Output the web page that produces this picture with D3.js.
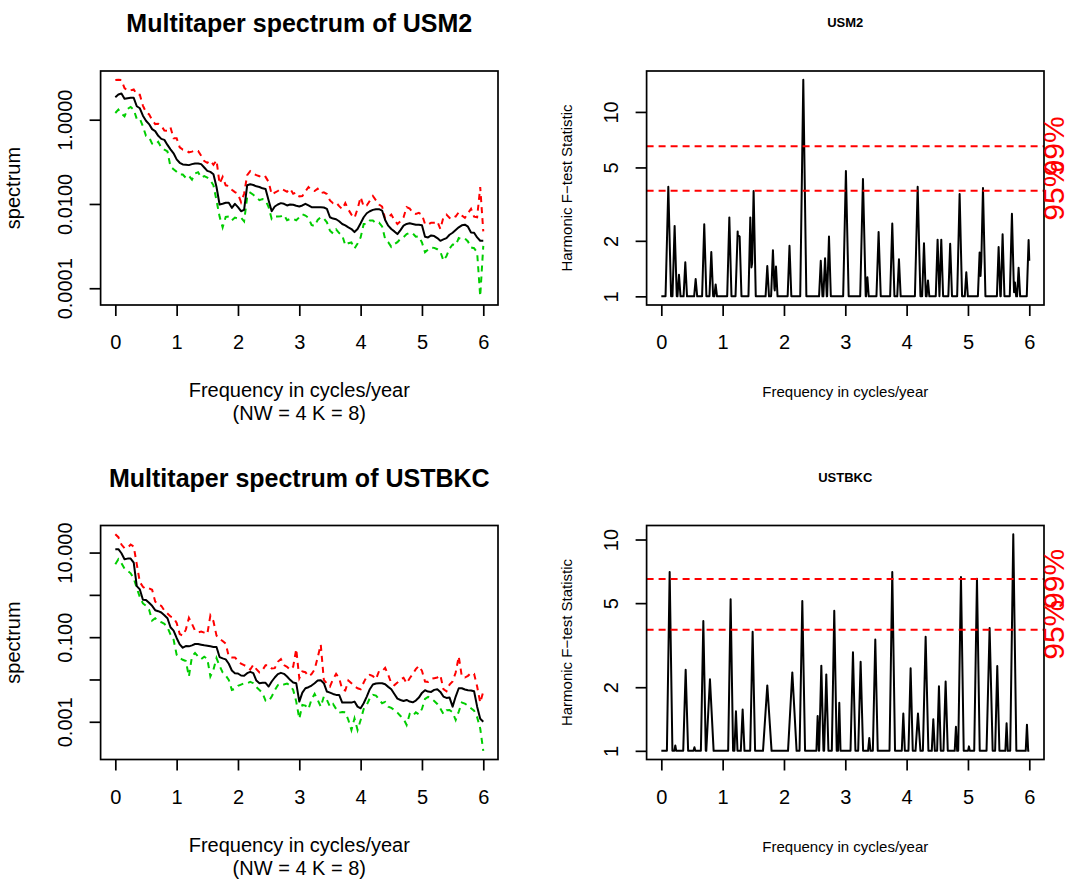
<!DOCTYPE html>
<html><head><meta charset="utf-8">
<script src="https://cdn.jsdelivr.net/npm/d3@7"></script>
<style>
body{margin:0;background:#fff}
svg{display:block}
text{font-family:"Liberation Sans",Arial,Helvetica,sans-serif;fill:#000}
</style>
</head><body>
<svg id="chart" width="1070" height="886"></svg>
<script>
// ---------------- DATA ----------------
// frequency grid (cycles/year) sampled every FREQ_STEP from 0 to 6
const FREQ_STEP = 0.05;
const freqTicks = [0, 1, 2, 3, 4, 5, 6];

// USM2 multitaper spectrum, upper and lower CI (log10 of spectrum)
const usm2SpecLog10 = [
  0.535,0.599,0.62,0.495,0.511,0.519,0.519,0.319,0.271,0.096,
  -0.024,-0.104,-0.224,-0.271,-0.383,-0.455,-0.479,-0.599,-0.703,-0.798,
  -0.942,-1.022,-1.062,-1.07,-1.078,-1.054,-1.038,-1.038,-1.054,-1.134,
  -1.214,-1.238,-1.293,-1.597,-2.012,-1.996,-1.972,-1.972,-2.092,-1.996,
  -2.076,-2.172,-2.14,-1.557,-1.533,-1.549,-1.581,-1.597,-1.629,-1.645,
  -1.916,-2.172,-2.06,-2.012,-1.98,-1.996,-2.036,-2.012,-2.02,-2.044,
  -2.06,-2.036,-1.996,-2.036,-2.076,-2.076,-2.076,-2.076,-2.084,-2.116,
  -2.315,-2.347,-2.363,-2.411,-2.475,-2.507,-2.555,-2.595,-2.667,-2.595,
  -2.459,-2.315,-2.22,-2.172,-2.14,-2.124,-2.124,-2.156,-2.379,-2.515,
  -2.595,-2.651,-2.715,-2.619,-2.515,-2.475,-2.459,-2.475,-2.491,-2.491,
  -2.507,-2.778,-2.794,-2.747,-2.762,-2.81,-2.874,-2.842,-2.81,-2.731,
  -2.683,-2.619,-2.555,-2.507,-2.491,-2.539,-2.675,-2.683,-2.794,-2.874,
  -2.874
];
const usm2UpperLog10 = [
  0.942,0.950,0.942,0.750,0.687,0.695,0.719,0.599,0.591,0.335,
  0.176,0.128,-0.008,-0.104,-0.096,-0.144,-0.255,-0.263,-0.184,-0.439,
  -0.439,-0.655,-0.711,-0.719,-0.774,-0.758,-0.727,-0.743,-0.854,-0.982,
  -1.022,-0.974,-1.070,-0.966,-1.517,-1.357,-1.557,-1.573,-1.661,-1.717,
  -1.757,-1.956,-1.757,-1.317,-1.222,-1.277,-1.317,-1.341,-1.389,-1.357,
  -1.477,-1.773,-1.733,-1.693,-1.637,-1.669,-1.709,-1.637,-1.757,-1.725,
  -1.820,-1.812,-1.701,-1.597,-1.677,-1.693,-1.637,-1.741,-1.725,-1.765,
  -1.916,-1.980,-1.964,-2.052,-2.124,-1.980,-2.132,-2.252,-2.331,-2.116,
  -1.836,-2.060,-2.036,-1.924,-1.812,-1.916,-2.012,-2.060,-2.355,-2.315,
  -2.252,-2.379,-2.475,-2.411,-2.315,-2.076,-2.108,-2.212,-2.236,-2.212,
  -2.252,-2.475,-2.491,-2.443,-2.443,-2.411,-2.595,-2.315,-2.252,-2.331,
  -2.268,-2.300,-2.196,-2.276,-2.331,-2.220,-2.116,-2.300,-2.315,-1.597,
  -2.651
];
const usm2LowerLog10 = [
  0.160,0.240,0.144,0.080,0.255,0.303,0.240,0.016,0.024,-0.160,
  -0.383,-0.415,-0.567,-0.591,-0.527,-0.663,-0.711,-0.751,-1.118,-1.174,
  -1.238,-1.301,-1.301,-1.381,-1.333,-1.421,-1.277,-1.246,-1.373,-1.341,
  -1.373,-1.437,-1.557,-1.916,-2.299,-2.555,-2.307,-2.299,-2.387,-2.323,
  -2.347,-2.323,-2.411,-1.836,-1.733,-1.780,-1.852,-1.908,-1.884,-1.916,
  -2.076,-2.355,-2.299,-2.299,-2.291,-2.259,-2.387,-2.355,-2.355,-2.387,
  -2.315,-2.244,-2.275,-2.331,-2.499,-2.523,-2.379,-2.315,-2.347,-2.435,
  -2.635,-2.699,-2.603,-2.691,-2.747,-2.978,-2.930,-2.914,-3.058,-2.938,
  -2.795,-2.475,-2.475,-2.395,-2.395,-2.459,-2.443,-2.531,-2.834,-2.906,
  -3.018,-2.954,-2.906,-2.826,-2.786,-2.715,-2.683,-2.699,-2.778,-2.770,
  -2.914,-3.146,-3.082,-3.034,-3.042,-3.074,-3.130,-3.345,-3.234,-3.058,
  -2.962,-2.978,-2.810,-2.834,-2.818,-2.890,-3.034,-3.050,-3.154,-4.192,
  -2.994
];

// USTBKC multitaper spectrum, upper and lower CI (log10)
const ustbkcSpecLog10 = [
  1.079,1.079,0.984,0.842,0.857,0.857,0.763,0.208,0.129,-0.116,
  -0.124,-0.188,-0.259,-0.362,-0.386,-0.417,-0.480,-0.552,-0.766,-0.845,
  -1.019,-1.170,-1.249,-1.209,-1.217,-1.193,-1.162,-1.162,-1.177,-1.193,
  -1.201,-1.217,-1.233,-1.233,-1.470,-1.502,-1.526,-1.629,-1.788,-1.851,
  -1.859,-1.906,-1.914,-1.851,-1.819,-1.851,-2.025,-2.088,-2.080,-2.080,
  -2.167,-2.048,-1.953,-1.874,-1.843,-1.867,-1.930,-2.009,-2.072,-2.088,
  -2.523,-2.310,-2.207,-2.183,-2.143,-2.088,-2.025,-2.017,-2.088,-2.286,
  -2.310,-2.342,-2.365,-2.365,-2.547,-2.547,-2.547,-2.547,-2.523,-2.642,
  -2.682,-2.563,-2.404,-2.230,-2.120,-2.096,-2.088,-2.088,-2.112,-2.175,
  -2.230,-2.342,-2.453,-2.485,-2.509,-2.485,-2.523,-2.539,-2.499,-2.428,
  -2.318,-2.254,-2.286,-2.294,-2.246,-2.230,-2.294,-2.404,-2.436,-2.428,
  -2.642,-2.404,-2.207,-2.207,-2.238,-2.254,-2.262,-2.278,-2.642,-2.927,
  -2.998
];
const ustbkcUpperLog10 = [
  1.435,1.364,1.190,1.103,1.111,1.190,1.143,0.723,0.303,0.192,
  0.137,0.153,0.121,-0.156,-0.243,-0.259,-0.370,-0.441,-0.512,-0.544,
  -0.663,-0.924,-0.964,-0.821,-0.544,-0.687,-0.845,-0.885,-0.869,-0.893,
  -0.924,-0.489,-0.623,-0.964,-1.043,-1.090,-1.154,-1.454,-1.478,-1.478,
  -1.558,-1.629,-1.661,-1.700,-1.763,-1.653,-1.756,-1.835,-1.779,-1.661,
  -1.661,-1.740,-1.732,-1.581,-1.518,-1.661,-1.700,-1.771,-1.700,-1.281,
  -1.970,-1.811,-1.827,-1.922,-1.874,-1.763,-1.478,-1.178,-2.009,-2.096,
  -2.167,-1.993,-1.867,-1.970,-2.238,-2.262,-2.025,-2.088,-2.159,-2.207,
  -2.230,-2.072,-1.930,-1.890,-1.922,-1.993,-1.803,-1.803,-1.724,-1.890,
  -2.088,-2.135,-2.072,-2.001,-1.961,-2.088,-1.970,-1.874,-1.756,-1.677,
  -1.795,-2.048,-2.056,-1.985,-1.970,-1.954,-1.898,-2.230,-2.278,-2.120,
  -2.048,-1.835,-1.454,-1.930,-1.954,-1.914,-1.843,-1.867,-2.167,-2.547,
  -2.286
];
const ustbkcLowerLog10 = [
  0.723,0.842,0.747,0.620,0.572,0.509,0.390,0.161,-0.053,-0.203,
  -0.259,-0.346,-0.607,-0.552,-0.615,-0.647,-0.686,-0.766,-0.940,-1.059,
  -1.415,-1.494,-1.534,-1.565,-1.930,-1.454,-1.375,-1.454,-1.518,-1.462,
  -1.510,-1.930,-1.772,-1.494,-1.676,-1.835,-1.906,-2.009,-2.246,-2.223,
  -2.151,-2.120,-2.088,-2.088,-2.056,-2.088,-2.183,-2.246,-2.325,-2.500,
  -2.515,-2.404,-2.254,-2.135,-2.096,-2.120,-2.096,-2.143,-2.246,-2.523,
  -2.927,-2.603,-2.618,-2.697,-2.468,-2.341,-2.483,-2.642,-2.404,-2.483,
  -2.642,-2.578,-2.697,-2.784,-2.768,-2.776,-2.958,-3.196,-2.919,-3.196,
  -2.958,-2.697,-2.603,-2.443,-2.364,-2.381,-2.468,-2.563,-2.531,-2.642,
  -2.673,-2.721,-2.784,-2.864,-2.927,-3.077,-2.816,-2.864,-2.776,-2.824,
  -2.697,-2.460,-2.412,-2.452,-2.507,-2.578,-2.689,-2.816,-2.729,-2.721,
  -2.776,-2.958,-2.760,-2.546,-2.570,-2.618,-2.681,-2.737,-2.895,-3.157,
  -3.687
];

const usm2YTicks = [1, 0.01, 0.0001];
const usm2YLabels = ["1.0000", "0.0100", "0.0001"];
const ustbkcYTicks = [10, 1, 0.1, 0.01, 0.001];
const ustbkcYLabels = ["10.000", "", "0.100", "", "0.001"];

// Harmonic F-test: peaks above the baseline of 1 (frequency, F value, half width of spike)
const usm2PeakFreq = [0.114,0.217,0.288,0.391,0.56,0.70,0.815,0.886,1.109,1.245,1.277,1.451,1.505,1.728,1.82,1.87,2.09,2.315,2.60,2.67,2.734,3.01,3.288,3.36,3.543,3.766,3.875,4.18,4.283,4.348,4.505,4.565,4.71,4.864,4.973,5.19,5.245,5.50,5.565,5.717,5.766,5.826,5.989];
const usm2PeakF    = [3.93,2.41,1.31,1.53,1.24,2.46,1.74,1.16,2.68,2.25,2.11,2.68,3.73,1.46,1.78,1.45,1.88,14.96,1.56,1.61,2.11,4.78,4.33,1.27,2.23,2.48,1.59,3.93,1.94,1.22,2.03,2.03,1.93,3.59,1.35,1.73,3.87,1.85,2.17,2.80,1.19,1.43,2.02];
const usm2PeakHW   = [0.045,0.035,0.025,0.028,0.025,0.035,0.03,0.022,0.035,0.035,0.03,0.03,0.035,0.028,0.03,0.025,0.03,0.05,0.028,0.028,0.03,0.045,0.045,0.022,0.035,0.035,0.028,0.045,0.03,0.022,0.03,0.03,0.03,0.04,0.025,0.028,0.04,0.028,0.03,0.035,0.02,0.025,0.03];

const ustbkcPeakFreq = [0.136,0.228,0.397,0.54,0.685,0.793,1.13,1.217,1.326,1.489,1.728,2.136,2.299,2.549,2.609,2.69,2.82,2.902,3.125,3.25,3.391,3.489,3.766,3.946,4.065,4.185,4.31,4.435,4.527,4.636,4.804,4.886,5.016,5.147,5.353,5.478,5.63,5.739,5.962];
const ustbkcPeakF    = [7.02,1.06,2.42,1.04,4.12,2.18,5.22,1.54,1.57,3.66,2.04,2.35,5.12,1.46,2.53,2.30,4.6,1.69,2.93,2.64,1.15,3.36,7.02,1.50,2.46,1.50,3.47,1.41,2.02,2.13,1.30,6.65,1.05,6.53,3.81,2.52,1.35,10.6,1.33];
const ustbkcPeakHW   = [0.045,0.015,0.04,0.015,0.04,0.06,0.04,0.025,0.03,0.04,0.07,0.07,0.045,0.02,0.035,0.035,0.04,0.02,0.04,0.04,0.02,0.04,0.045,0.025,0.035,0.04,0.045,0.025,0.03,0.035,0.02,0.045,0.015,0.045,0.05,0.035,0.02,0.05,0.02];

const fTicks = [1, 2, 5, 10];
const fTickLabels = ["1", "2", "5", "10"];
const fThresholds = [3.74, 6.51];
const fThresholdLabels = ["95%", "99%"];

// ---------------- DRAWING ----------------
const svg = d3.select("#chart");
svg.append("rect").attr("width", 1070).attr("height", 886).attr("fill", "#fff");

const FONT = 20;
const TICK = 11;
const xDomain = [-0.24, 6.24];

function frame(g, box) {
  g.append("rect").attr("x", box.x0).attr("y", box.y0)
    .attr("width", box.x1 - box.x0).attr("height", box.y1 - box.y0)
    .attr("fill", "none").attr("stroke", "#000").attr("stroke-width", 1.7);
}

function xAxis(g, box, x) {
  const ax = g.append("g").attr("transform", `translate(0,${box.y1})`)
    .call(d3.axisBottom(x).tickValues(freqTicks).tickFormat(d3.format("d")).tickSize(TICK));
  ax.select(".domain").remove();
  ax.selectAll("line").attr("stroke", "#000").attr("stroke-width", 1.7);
  ax.selectAll("text").attr("y", 44).attr("dy", null)
    .style("font-size", FONT + "px").attr("fill", "#000");
}

function yAxis(g, box, y, ticks, labels) {
  const ax = g.append("g").attr("transform", `translate(${box.x0},0)`)
    .call(d3.axisLeft(y).tickValues(ticks).tickFormat((d, i) => labels[i]).tickSize(TICK));
  ax.select(".domain").remove();
  ax.selectAll("line").attr("stroke", "#000").attr("stroke-width", 1.7);
  ax.selectAll("text").attr("x", null).attr("dy", null)
    .attr("transform", "translate(-29,0) rotate(-90)")
    .attr("text-anchor", "middle")
    .style("font-size", FONT + "px").attr("fill", "#000");
}

function specPanel(box, title, specL, upL, loL, yTicks, yLabels) {
  const g = svg.append("g");
  const spec = specL.map(v => Math.pow(10, v));
  const up = upL.map(v => Math.pow(10, v));
  const lo = loL.map(v => Math.pow(10, v));
  const all = spec.concat(up, lo);
  const lmin = Math.log10(d3.min(all)), lmax = Math.log10(d3.max(all));
  const pad = (lmax - lmin) * 0.04;
  const x = d3.scaleLinear().domain(xDomain).range([box.x0, box.x1]);
  const y = d3.scaleLog().domain([Math.pow(10, lmin - pad), Math.pow(10, lmax + pad)]).range([box.y1, box.y0]);
  const line = d3.line().x((d, i) => x(i * FREQ_STEP)).y(d => y(d));

  g.append("path").datum(up).attr("d", line).attr("fill", "none")
    .attr("stroke", "#FF0000").attr("stroke-width", 2).attr("stroke-dasharray", "6,5");
  g.append("path").datum(lo).attr("d", line).attr("fill", "none")
    .attr("stroke", "#00CD00").attr("stroke-width", 2).attr("stroke-dasharray", "6,5");
  g.append("path").datum(spec).attr("d", line).attr("fill", "none")
    .attr("stroke", "#000").attr("stroke-width", 2).attr("stroke-linejoin", "round");

  frame(g, box);
  xAxis(g, box, x);
  yAxis(g, box, y, yTicks, yLabels);

  const cx = (box.x0 + box.x1) / 2, cy = (box.y0 + box.y1) / 2;
  g.append("text").attr("x", cx).attr("y", box.y0 - 39).attr("text-anchor", "middle")
    .style("font-size", "25px").style("font-weight", "bold").text(title);
  g.append("text").attr("x", cx).attr("y", box.y1 + 92).attr("text-anchor", "middle")
    .style("font-size", FONT + "px").text("Frequency in cycles/year");
  g.append("text").attr("x", cx).attr("y", box.y1 + 115).attr("text-anchor", "middle")
    .style("font-size", FONT + "px").text("(NW = 4 K = 8)");
  g.append("text").attr("transform", `translate(${box.x0 - 81},${cy}) rotate(-90)`)
    .attr("text-anchor", "middle").style("font-size", FONT + "px").text("spectrum");
}

function fPanel(box, title, pf, pv, phw) {
  const g = svg.append("g");
  const x = d3.scaleLinear().domain(xDomain).range([box.x0, box.x1]);
  const lmax = Math.log10(d3.max(pv)), lmin = 0;
  const pad = (lmax - lmin) * 0.04;
  const y = d3.scaleLog().domain([Math.pow(10, lmin - pad), Math.pow(10, lmax + pad)]).range([box.y1, box.y0]);

  // breakpoints of the spike line, evaluated from the peak list
  let xs = [0, 6];
  pf.forEach((f, i) => xs.push(f - phw[i], f, f + phw[i]));
  xs = Array.from(new Set(xs.filter(v => v >= 0 && v <= 6).map(v => +v.toFixed(4)))).sort((a, b) => a - b);
  const fAt = t => {
    let m = 0;
    pf.forEach((f, i) => {
      const d = Math.abs(t - f);
      if (d < phw[i]) m = Math.max(m, Math.log10(pv[i]) * (1 - d / phw[i]));
    });
    return Math.pow(10, m);
  };
  const pts = xs.map(t => [t, fAt(t)]);

  g.append("path").datum(pts)
    .attr("d", d3.line().x(d => x(d[0])).y(d => y(d[1])))
    .attr("fill", "none").attr("stroke", "#000").attr("stroke-width", 2).attr("stroke-linejoin", "round");

  fThresholds.forEach((t, i) => {
    g.append("line").attr("x1", box.x0).attr("x2", box.x1).attr("y1", y(t)).attr("y2", y(t))
      .attr("stroke", "#FF0000").attr("stroke-width", 2).attr("stroke-dasharray", "7,5");
  });

  frame(g, box);
  xAxis(g, box, x);
  yAxis(g, box, y, fTicks, fTickLabels);

  fThresholds.forEach((t, i) => {
    g.append("text").attr("transform", `translate(${box.x1 + 20},${y(t)}) rotate(-90)`)
      .attr("text-anchor", "middle").style("font-size", "30px")
      .style("fill", "#FF0000").text(fThresholdLabels[i]);
  });

  const cx = (box.x0 + box.x1) / 2, cy = (box.y0 + box.y1) / 2;
  g.append("text").attr("x", cx).attr("y", box.y0 - 44).attr("text-anchor", "middle")
    .style("font-size", "13px").style("font-weight", "bold").text(title);
  g.append("text").attr("x", cx).attr("y", box.y1 + 92).attr("text-anchor", "middle")
    .style("font-size", "15px").text("Frequency in cycles/year");
  g.append("text").attr("transform", `translate(${box.x0 - 75},${cy}) rotate(-90)`)
    .attr("text-anchor", "middle").style("font-size", "15px").text("Harmonic F\u2212test Statistic");
}

const boxTL = {x0: 100.6, x1: 498, y0: 71, y1: 305};
const boxTR = {x0: 646.6, x1: 1044, y0: 71, y1: 305};
const boxBL = {x0: 100.6, x1: 498, y0: 525.5, y1: 759.5};
const boxBR = {x0: 646.6, x1: 1044, y0: 525.5, y1: 759.5};

specPanel(boxTL, "Multitaper spectrum of USM2", usm2SpecLog10, usm2UpperLog10, usm2LowerLog10, usm2YTicks, usm2YLabels);
fPanel(boxTR, "USM2", usm2PeakFreq, usm2PeakF, usm2PeakHW);
specPanel(boxBL, "Multitaper spectrum of USTBKC", ustbkcSpecLog10, ustbkcUpperLog10, ustbkcLowerLog10, ustbkcYTicks, ustbkcYLabels);
fPanel(boxBR, "USTBKC", ustbkcPeakFreq, ustbkcPeakF, ustbkcPeakHW);
</script>
</body></html>
